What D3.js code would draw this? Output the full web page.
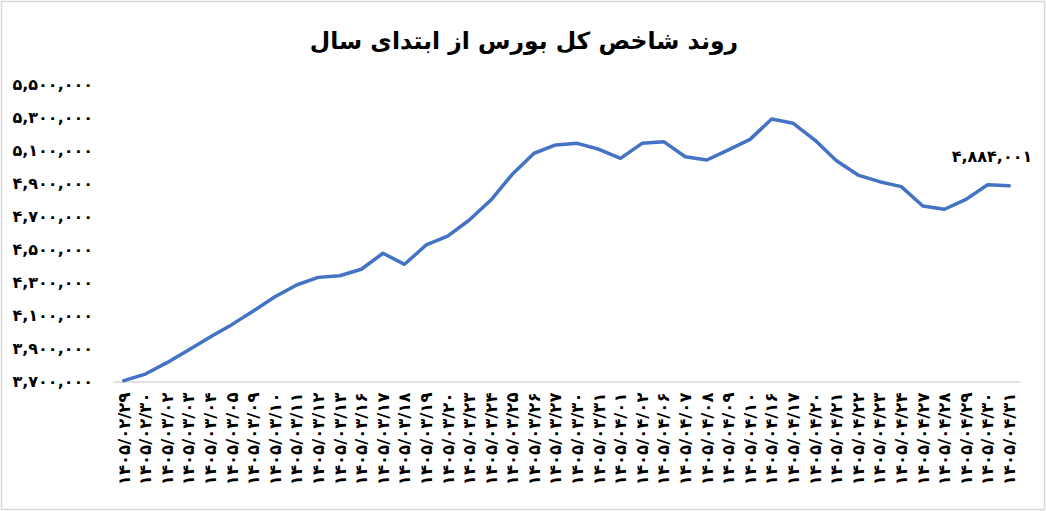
<!DOCTYPE html>
<html>
<head>
<meta charset="utf-8">
<script src="https://cdn.jsdelivr.net/npm/d3@7"></script>
<style>
  body { margin: 0; background: #fff; }
  text { font-family: "DejaVu Sans", sans-serif; }
</style>
</head>
<body>
<svg id="chart"></svg>
<script>
/////////////////////////////////////////////////////////
// TEHRAN STOCK EXCHANGE INDEX - SINCE START OF YEAR
/////////////////////////////////////////////////////////

// DATA
var dates = [
  '۱۴۰۵/۰۲/۲۹', '۱۴۰۵/۰۲/۳۰', '۱۴۰۵/۰۳/۰۲', '۱۴۰۵/۰۳/۰۳', '۱۴۰۵/۰۳/۰۴',
  '۱۴۰۵/۰۳/۰۵', '۱۴۰۵/۰۳/۰۹', '۱۴۰۵/۰۳/۱۰', '۱۴۰۵/۰۳/۱۱', '۱۴۰۵/۰۳/۱۲',
  '۱۴۰۵/۰۳/۱۳', '۱۴۰۵/۰۳/۱۶', '۱۴۰۵/۰۳/۱۷', '۱۴۰۵/۰۳/۱۸', '۱۴۰۵/۰۳/۱۹',
  '۱۴۰۵/۰۳/۲۰', '۱۴۰۵/۰۳/۲۳', '۱۴۰۵/۰۳/۲۴', '۱۴۰۵/۰۳/۲۵', '۱۴۰۵/۰۳/۲۶',
  '۱۴۰۵/۰۳/۲۷', '۱۴۰۵/۰۳/۳۰', '۱۴۰۵/۰۳/۳۱', '۱۴۰۵/۰۴/۰۱', '۱۴۰۵/۰۴/۰۲',
  '۱۴۰۵/۰۴/۰۶', '۱۴۰۵/۰۴/۰۷', '۱۴۰۵/۰۴/۰۸', '۱۴۰۵/۰۴/۰۹', '۱۴۰۵/۰۴/۱۰',
  '۱۴۰۵/۰۴/۱۶', '۱۴۰۵/۰۴/۱۷', '۱۴۰۵/۰۴/۲۰', '۱۴۰۵/۰۴/۲۱', '۱۴۰۵/۰۴/۲۲',
  '۱۴۰۵/۰۴/۲۳', '۱۴۰۵/۰۴/۲۴', '۱۴۰۵/۰۴/۲۷', '۱۴۰۵/۰۴/۲۸', '۱۴۰۵/۰۴/۲۹',
  '۱۴۰۵/۰۴/۳۰', '۱۴۰۵/۰۴/۳۱'
];

var indexValues = [
  3705000, 3745000, 3814000, 3891000, 3969000,
  4044000, 4127000, 4213000, 4284000, 4330000,
  4340000, 4379000, 4476000, 4409000, 4526000,
  4580000, 4677000, 4798000, 4955000, 5081000,
  5131000, 5141000, 5105000, 5050000, 5141000,
  5151000, 5060000, 5040000, 5101000, 5165000,
  5288000, 5262000, 5161000, 5036000, 4949000,
  4909000, 4879000, 4762000, 4742000, 4802000,
  4890000, 4884001
];

var yTicks = [3700000, 3900000, 4100000, 4300000, 4500000, 4700000, 4900000, 5100000, 5300000, 5500000];

var chartTitle = 'روند شاخص کل بورس از ابتدای سال';

// GLOBAL VARIABLES
var width = 1046;
var height = 511;
var svg = d3.select('#chart').attr('width', width).attr('height', height);

// PERSIAN DIGITS
var faDigits = '۰۱۲۳۴۵۶۷۸۹';
function toFa(str) {
  return String(str).replace(/[0-9]/g, function(c) { return faDigits[+c]; });
}
var format = d3.format(',');

// SCALES
var xScale = d3.scaleBand().domain(dates).range([113, 1020]);
var yScale = d3.scaleLinear().domain([3700000, 5500000]).range([381.5, 84]);

// OUTER BORDER
svg.append('rect')
  .attr('x', 1.5)
  .attr('y', 1.5)
  .attr('width', width - 3)
  .attr('height', height - 3)
  .style('fill', 'white')
  .style('stroke', '#d9d9d9')
  .style('stroke-width', 1.5);

// TITLE
svg.append('text')
  .text(chartTitle)
  .attr('x', 524)
  .attr('y', 49)
  .attr('text-anchor', 'middle')
  .attr('direction', 'rtl')
  .style('font-size', '23.5px')
  .style('font-weight', 'bold')
  .style('fill', '#000');

// Y AXIS (labels only)
var yAxis = d3.axisLeft(yScale)
  .tickValues(yTicks)
  .tickSize(0)
  .tickPadding(0)
  .tickFormat(function(d) { return toFa(format(d)); });

var yAxisG = svg.append('g')
  .attr('transform', 'translate(93,0)')
  .call(yAxis);
yAxisG.select('.domain').remove();
yAxisG.selectAll('text')
  .attr('direction', 'ltr')
  .style('font-family', '"DejaVu Sans", sans-serif')
  .style('font-size', '16px')
  .style('font-weight', 'bold')
  .style('fill', '#000');

// X AXIS
var xAxis = d3.axisBottom(xScale)
  .tickSize(0)
  .tickPadding(0)
  .tickFormat(function(d) { return d; });

var xAxisG = svg.append('g')
  .attr('transform', 'translate(0,' + yScale(3700000) + ')')
  .call(xAxis);
xAxisG.select('.domain')
  .style('stroke', '#d9d9d9')
  .style('stroke-width', 1.5);
xAxisG.selectAll('text')
  .attr('direction', 'ltr')
  .attr('transform', 'rotate(-90)')
  .attr('x', -11)
  .attr('y', 0)
  .attr('dy', '0.35em')
  .style('text-anchor', 'end')
  .style('font-family', '"DejaVu Sans", sans-serif')
  .style('font-size', '16.5px')
  .style('font-weight', 'bold')
  .style('fill', '#000');

// LINE
var line = d3.line()
  .x(function(d, i) { return xScale(dates[i]) + xScale.bandwidth() / 2; })
  .y(function(d) { return yScale(d); });

svg.append('path')
  .datum(indexValues)
  .attr('d', line)
  .style('fill', 'none')
  .style('stroke', '#4472c4')
  .style('stroke-width', 3.5)
  .style('stroke-linejoin', 'round')
  .style('stroke-linecap', 'round');

// LAST VALUE LABEL
var lastI = indexValues.length - 1;
svg.append('text')
  .text(toFa(format(indexValues[lastI])))
  .attr('x', xScale(dates[lastI]) + xScale.bandwidth() / 2 + 23)
  .attr('y', yScale(indexValues[lastI]) - 24)
  .attr('direction', 'ltr')
  .attr('text-anchor', 'end')
  .style('font-size', '16px')
  .style('font-weight', 'bold')
  .style('fill', '#000');
</script>
</body>
</html>
